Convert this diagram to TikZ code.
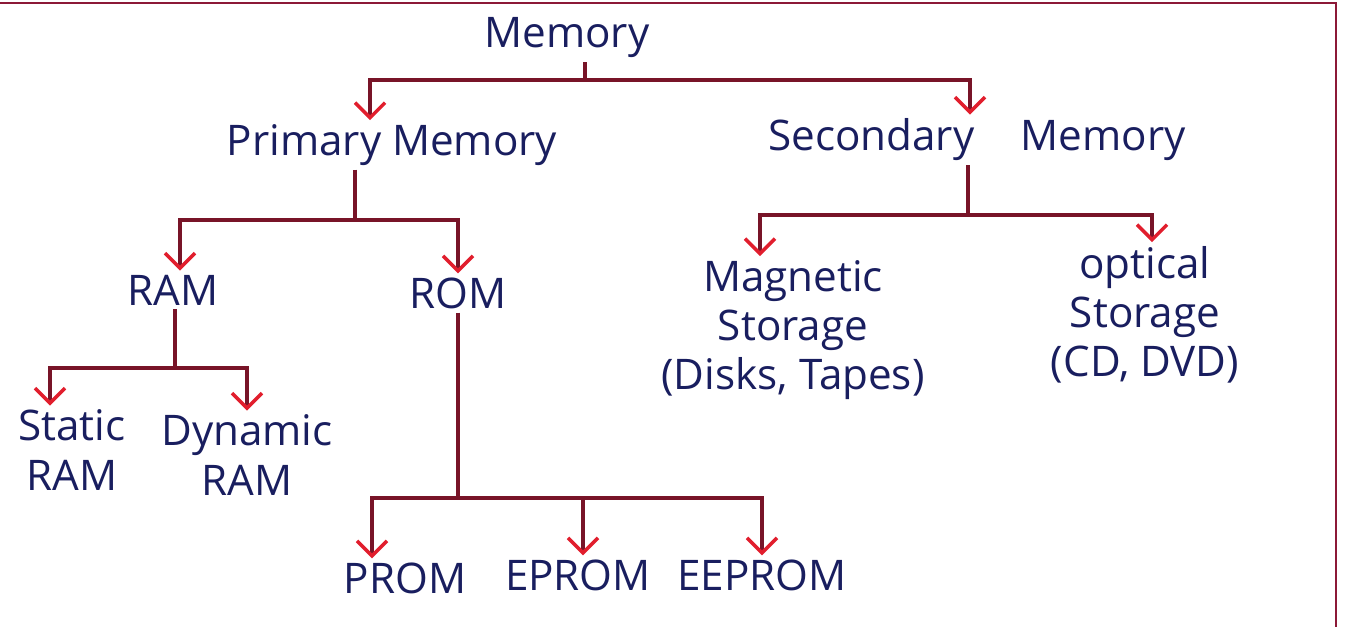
\documentclass[tikz,border=0pt]{standalone}
\usepackage{fontspec}
\setmainfont{Open Sans}
\usetikzlibrary{arrows.meta}
\definecolor{InkClr}{RGB}{25,30,95}
\definecolor{LineClr}{RGB}{120,20,40}
\definecolor{TipClr}{RGB}{225,30,45}
\definecolor{EdgeClr}{RGB}{140,25,55}

\begin{document}
\begin{tikzpicture}[
  Txt/.style={text=InkClr,font=\fontsize{12}{14}\selectfont,inner sep=1pt,align=center},
  Link/.style={draw=LineClr,line width=1pt},
  Arr/.style={Link,-{Straight Barb[color=TipClr,length=1.5mm,width=3mm]}}]
\useasboundingbox (0,0) rectangle (13.46,6.27);

% page frame
\draw[EdgeClr,line width=0.8pt] (0,6.24) -- (13.36,6.24) -- (13.36,0);

\node[Txt] (mem) at (5.67,5.89) {Memory};

\node[Txt] (prim) at (3.92,4.82) {Primary Memory};
\node[Txt] (sec) at (9.77,4.87) {Secondary\hspace{1.1em}Memory};

\node[Txt] (ram) at (1.73,3.37) {RAM};
\node[Txt] (rom) at (4.58,3.34) {ROM};
\node[Txt] (mag) at (7.93,2.97) {Magnetic\\Storage\\(Disks, Tapes)};
\node[Txt] (opt) at (11.45,3.12) {optical\\Storage\\(CD, DVD)};

\node[Txt] (sram) at (0.72,1.77) {Static\\RAM};
\node[Txt] (dram) at (2.47,1.72) {Dynamic\\RAM};

\node[Txt] (prom) at (4.05,0.49) {PROM};
\node[Txt] (eprom) at (5.78,0.52) {EPROM};
\node[Txt] (eeprom) at (7.62,0.52) {EEPROM};

\coordinate (memJ) at (5.85,5.47);
\coordinate (primJ) at (3.55,4.07);
\coordinate (secJ) at (9.68,4.12);
\coordinate (ramJ) at (1.75,2.59);
\coordinate (romJ) at (4.58,1.29);

\draw[Link] (memJ |- mem.south) -- (memJ);
\draw[Arr] (memJ) -| ([xshift=-2.2mm]prim.north);
\draw[Arr] (memJ) -| ([xshift=-0.7mm]sec.north);

\draw[Link] (primJ |- prim.south) -- (primJ);
\draw[Arr] (primJ) -| ([xshift=0.7mm]ram.north);
\draw[Arr] (primJ) -| (rom.north);

\draw[Link] (secJ |- sec.south) -- (secJ);
\draw[Arr] (secJ) -| ([xshift=-3.3mm]mag.north);
\draw[Arr] (secJ) -| ([xshift=0.7mm]opt.north);

\draw[Link] (ramJ |- ram.south) -- (ramJ);
\draw[Arr] (ramJ) -| ([xshift=-2.2mm]sram.north);
\draw[Arr] (ramJ) -| (dram.north);

\draw[Link] (romJ |- rom.south) -- (romJ);
\draw[Arr] (romJ) -| ([xshift=-3.3mm]prom.north);
\draw[Arr] (romJ) -| ([xshift=0.5mm]eprom.north);
\draw[Arr] (romJ) -| (eeprom.north);

\end{tikzpicture}
\end{document}
